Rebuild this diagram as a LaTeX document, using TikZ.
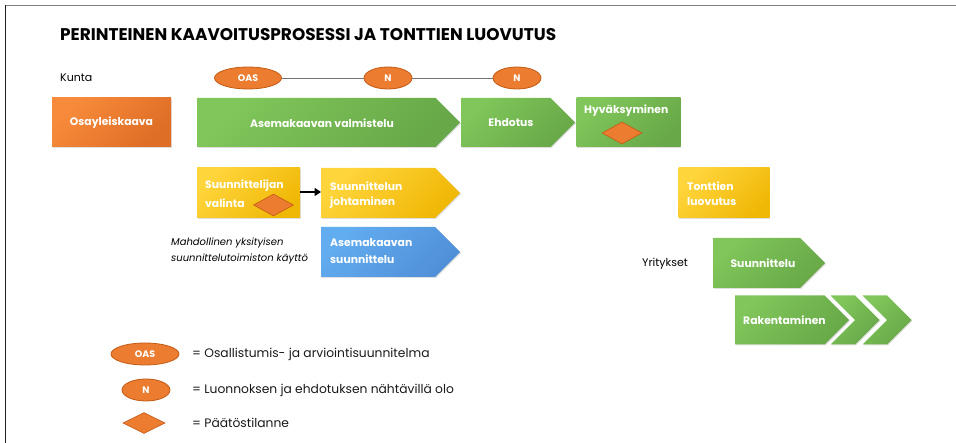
\documentclass[tikz,border=0pt]{standalone}
\usepackage{fontspec}
\setmainfont{Poppins}
\usetikzlibrary{shapes.geometric,shapes.symbols,shadows,arrows.meta}
\definecolor{gA}{HTML}{80C65A}
\definecolor{gB}{HTML}{68A848}
\definecolor{oA}{HTML}{F88B3B}
\definecolor{oB}{HTML}{DE6D25}
\definecolor{yA}{HTML}{FFD53C}
\definecolor{yB}{HTML}{F0B806}
\definecolor{bA}{HTML}{62ACF0}
\definecolor{bB}{HTML}{5090D8}
\definecolor{ell}{HTML}{EC7C30}
\definecolor{ellb}{HTML}{C25A14}
\tikzset{
  shapebox/.style={draw=none, inner sep=0pt, minimum height=49pt,
    drop shadow={shadow xshift=0.8pt, shadow yshift=-1pt, opacity=0.25}},
  greenf/.style={left color=gA, right color=gB, shading angle=45},
  orangef/.style={left color=oA, right color=oB, shading angle=45},
  yellowf/.style={left color=yA, right color=yB, shading angle=45},
  bluef/.style={left color=bA, right color=bB, shading angle=45},
  rectbox/.style={shapebox, rectangle},
  arrowbox/.style={shapebox, signal, signal to=east, signal pointer angle=90, anchor=west},
  chevbox/.style={shapebox, signal, signal from=west, signal to=east, signal pointer angle=90},
  lbl/.style={text=white, font=\bfseries\fontsize{10.8}{12}\selectfont, inner sep=0pt},
  plain/.style={text=black, font=\fontsize{11}{13}\selectfont, inner sep=0pt},
  legendtext/.style={text=black!90, font=\fontsize{12.3}{14}\selectfont, inner sep=0pt, anchor=west},
  note/.style={text=black, inner sep=0pt, font=\itshape\fontsize{10}{12}\selectfont, anchor=west},
  marker/.style={ellipse, draw=ellb, line width=0.8pt, fill=ell, inner sep=0pt,
    text=white, font=\bfseries\fontsize{9.5}{10}\selectfont, minimum height=22pt},
  decision/.style={diamond, draw=ellb, line width=0.6pt, fill=ell, inner sep=0pt,
    minimum width=40pt, minimum height=22pt, aspect=1.8},
}
\begin{document}
\begin{tikzpicture}[x=1pt,y=-1pt]
\useasboundingbox (0,0) rectangle (956,443);
\draw[black!50, line width=1.2pt] (5,5.7) -- (956,5.7);
\draw[black!88, line width=1.2pt] (5.3,5.2) -- (5.3,443);

\node[anchor=west, inner sep=0pt, font=\bfseries\fontsize{16.9}{20}\selectfont] (title) at (60,35)
  {PERINTEINEN KAAVOITUSPROSESSI JA TONTTIEN LUOVUTUS};

\node[plain, anchor=west] (kunta) at (60,78) {Kunta};
\node[marker, minimum width=67pt] (oas) at (248,78) {OAS};
\node[marker, minimum width=48pt] (n1) at (388,78) {N};
\node[marker, minimum width=48pt] (n2) at (517,78) {N};
\draw[black!55, line width=0.8pt] (oas) -- (n1);
\draw[black!55, line width=0.8pt] (n1) -- (n2);

% row 1
\node[rectbox, orangef, minimum width=119pt] (osa) at (111.5,122.5) {};
\node[lbl] (osat) at (osa.center) {Osayleiskaava};
\node[arrowbox, greenf, minimum width=263pt] (asema) at (197,122.5) {};
\node[lbl] (asemat) at (322,123) {Asemakaavan valmistelu};
\node[arrowbox, greenf, minimum width=114pt] (ehd) at (461,122.5) {};
\node[lbl] (ehdt) at (511,123) {Ehdotus};
\node[rectbox, greenf, minimum width=104pt] (hyv) at (628.5,122.5) {};
\node[lbl, anchor=west] (hyvt) at (584,111) {Hyväksyminen};
\node[decision] (hyvd) at (622,133) {};

% row 2
\node[rectbox, yellowf, minimum width=103pt, minimum height=50pt] (valinta) at (248.5,193) {};
\node[lbl, anchor=west] (valt1) at (205,186) {Suunnittelijan};
\node[lbl, anchor=west] (valt2) at (205,203) {valinta};
\node[decision] (vald) at (273.5,205) {};
\node[arrowbox, yellowf, minimum width=139pt, minimum height=50pt] (johto) at (321,193) {};
\node[lbl, anchor=west] (joht1) at (330,186) {Suunnittelun};
\node[lbl, anchor=west] (joht2) at (330,203) {johtaminen};
\draw[-{Triangle[length=6.5pt,width=8pt]}, line width=2.2pt] (valinta.east |- 0,192) -- (johto.west |- 0,192);

\node[rectbox, yellowf, minimum width=91pt, minimum height=50pt] (tontti) at (724,193) {};
\node[lbl, anchor=west] (tont1) at (687,186) {Tonttien};
\node[lbl, anchor=west] (tont2) at (687,202) {luovutus};

% row 3
\node[note] (mahd1) at (171,243) {Mahdollinen yksityisen};
\node[note] (mahd2) at (171,259) {suunnittelutoimiston käyttö};
\node[arrowbox, bluef, minimum width=139pt, minimum height=50pt] (asuun) at (321,252) {};
\node[lbl, anchor=west] (asu1) at (330,243) {Asemakaavan};
\node[lbl, anchor=west] (asu2) at (330,259) {suunnittelu};

% yritykset
\node[plain, anchor=west] (yrit) at (642,264) {Yritykset};
\node[arrowbox, greenf, minimum width=112pt, minimum height=50pt] (suun) at (713,263) {};
\node[lbl] (suunt) at (763,263) {Suunnittelu};
\node[arrowbox, greenf, minimum width=114pt] (rak) at (735,320) {};
\node[lbl] (rakt) at (784.5,320) {Rakentaminen};
\node[chevbox, greenf, minimum width=48pt] (ch1) at (855,320) {};
\node[chevbox, greenf, minimum width=48pt] (ch2) at (887,320) {};

% legend
\node[marker, minimum width=68pt] (loas) at (145,354) {OAS};
\node[legendtext] (loast) at (192,354) {= Osallistumis- ja arviointisuunnitelma};
\node[marker, minimum width=48pt] (ln) at (146,390) {N};
\node[legendtext] (lnt) at (192,390) {= Luonnoksen ja ehdotuksen nähtävillä olo};
\node[decision, minimum width=42pt, minimum height=21pt] (ld) at (144,423) {};
\node[legendtext] (ldt) at (192,423) {= Päätöstilanne};
\end{tikzpicture}
\end{document}
